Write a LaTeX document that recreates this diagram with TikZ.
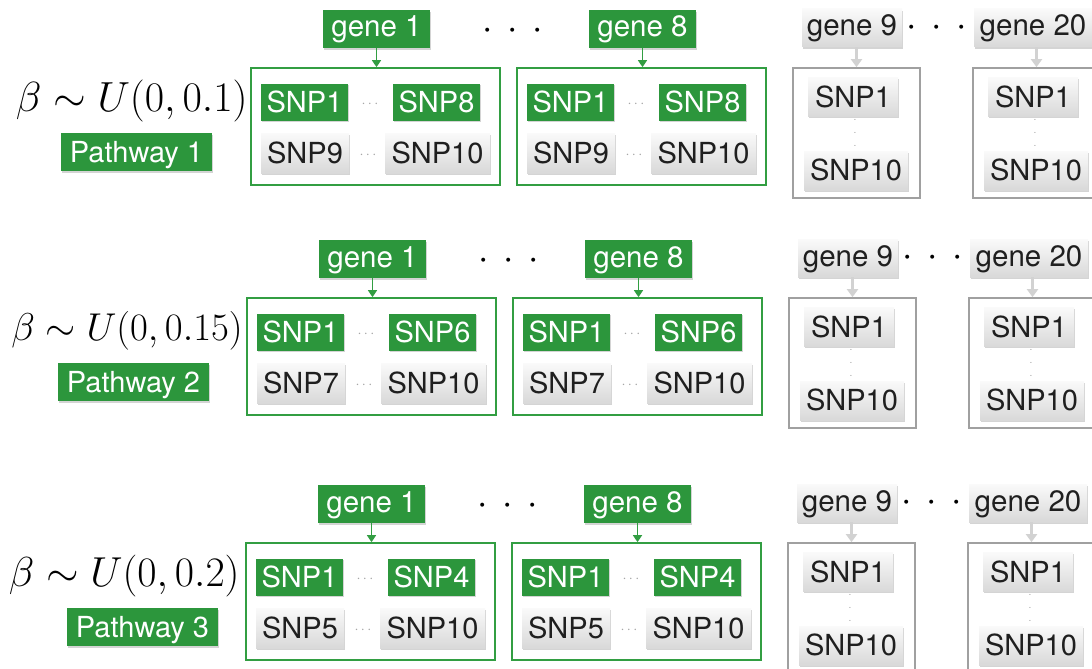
\documentclass[tikz,border=0pt]{standalone}
\usepackage{fontspec}
\setmainfont{TeX Gyre Heros}
\usetikzlibrary{arrows.meta,shadows}
\definecolor{pgreen}{RGB}{44,150,60}
\definecolor{gline}{RGB}{50,158,66}
\definecolor{boxgray}{RGB}{160,160,160}
\definecolor{arrgray}{RGB}{210,210,210}
\tikzset{
  lbl/.style={font=\fontsize{29}{30}\selectfont, inner sep=0pt, text height=21pt, text depth=1pt},
  genelbl/.style={lbl, font=\fontsize{29.5}{30}\selectfont, text depth=5pt, minimum height=38pt},
  shad/.style={drop shadow={shadow xshift=0.8pt, shadow yshift=-1.8pt, opacity=0.28, fill=black!60}},
  gfill/.style={fill=pgreen, text=white, shad},
  gshade/.style={top color=gray!4, bottom color=gray!30, text=black!88, shad},
  gframe/.style={draw=gline, line width=1.7pt, inner sep=0pt},
  grframe/.style={draw=boxgray, line width=1.7pt, inner sep=0pt},
  garrow/.style={draw=gline, line width=1.6pt, -{Triangle[width=9pt,length=7pt]}},
  grarrow/.style={draw=arrgray, line width=2.4pt, -{Triangle[width=11pt,length=8pt]}},
  sdots/.style={font=\fontsize{14.4}{14}\selectfont, text=gray!70, inner sep=0pt},
  bigdots/.style={font=\fontsize{24.88}{30}\selectfont, inner sep=0pt, scale=1.5},
  vdot/.style={font=\fontsize{10}{10}\selectfont, text=gray!70, inner sep=0pt},
  betalbl/.style={font=\fontsize{20.74}{22}\selectfont, inner sep=0pt},
}
\begin{document}
\begin{tikzpicture}[x=1pt,y=-1pt]
\useasboundingbox (0,0) rectangle (1092,669);
\clip (0,0) rectangle (1092,669);
\foreach \r/\dy/\dx/\k/\kn/\pv/\px/\bs/\bx in {1/0/0/8/9/0.1/136.5/2.03/248, 2/230/-4/6/7/0.15/137.5/1.87/247, 3/475/-5/4/5/0.2/147.5/2.02/245}{
\begin{scope}[shift={(\dx,\dy)}]
  % row label
  \node[betalbl, scale=\bs, anchor=east] (beta\r) at (\bx,101) {$\beta\sim U(0,\pv)$};
  \node[lbl, gfill, minimum width=151pt, minimum height=38pt] (pw\r) at (\px,152) {Pathway \r};
  % dots between gene 1 and gene 8
  \node[bigdots] (md\r) at (512.5,31) {${\cdot}\hskip9.7pt{\cdot}\hskip9.7pt{\cdot}$};
  % green genes
  \foreach \c/\sx/\gn in {a/0/1, b/266/8}{
  \begin{scope}[shift={(\sx,0)}]
    \node[genelbl, gfill, minimum width=107pt] (g\c\r) at (376.5,29) {gene \gn};
    \node[gframe, minimum width=249pt, minimum height=117pt] (f\c\r) at (375.5,126.5) {};
    \draw[garrow] (g\c\r.south) -- (g\c\r.south |- f\c\r.north);
    \node[lbl, gfill, minimum width=87pt, minimum height=37pt] (s1\c\r) at (304.5,102) {SNP1};
    \node[lbl, gfill, minimum width=87pt, minimum height=37pt] (sk\c\r) at (436.5,102) {SNP\k};
    \node[lbl, gshade, minimum width=88pt, minimum height=40pt] (sn\c\r) at (305,153) {SNP\kn};
    \node[lbl, gshade, minimum width=105pt, minimum height=40pt] (st\c\r) at (437.5,153) {SNP10};
    \node[sdots] (da\c\r) at (370,104) {$\cdots$};
    \node[sdots] (db\c\r) at (368,155) {$\cdots$};
  \end{scope}
  }
  % dots between gene 9 and gene 20
  \node[bigdots] (gd\r) at (937,28) {${\cdot}\hskip9.7pt{\cdot}\hskip9.7pt{\cdot}$};
  % gray genes
  \foreach \c/\sx/\gn/\gw/\gx in {c/0/9/100/852, d/180/20/118/1033}{
  \begin{scope}[shift={(\sx,0)}]
    \node[genelbl, gshade, minimum width=\gw pt] (g\c\r) at (\gx-\sx,28) {gene \gn};
    \node[grframe, minimum width=127pt, minimum height=130pt] (f\c\r) at (856.5,133) {};
    \draw[grarrow] (f\c\r.north |- g\c\r.south) -- (f\c\r.north);
    \node[lbl, gshade, minimum width=90pt, minimum height=39pt] (s1\c\r) at (853,97) {SNP1};
    \node[lbl, gshade, minimum width=104pt, minimum height=39pt] (st\c\r) at (856,170.5) {SNP10};
    \node[vdot] (va\c\r) at (855,120) {.};
    \node[vdot] (vb\c\r) at (855,133) {.};
    \node[vdot] (vc\c\r) at (855,146) {.};
  \end{scope}
  }
\end{scope}
}
\end{tikzpicture}
\end{document}
